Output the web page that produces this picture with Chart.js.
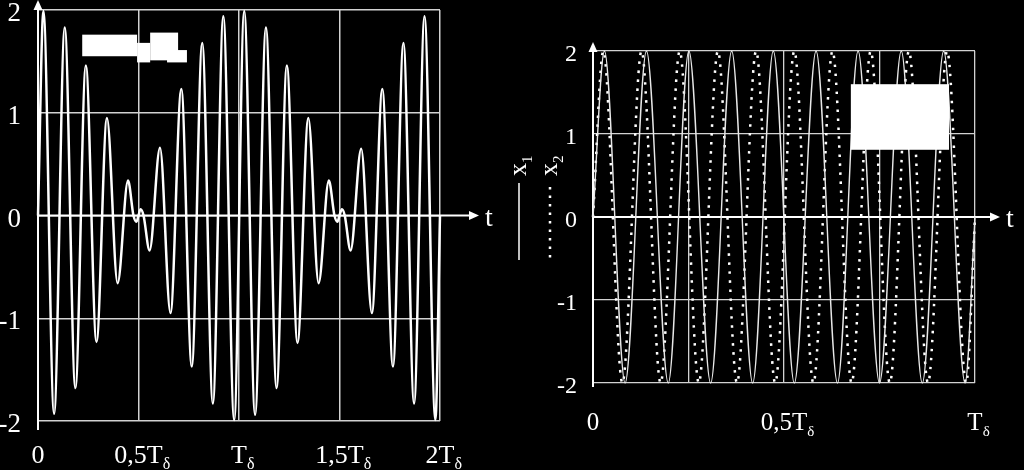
<!DOCTYPE html>
<html>
<head>
<meta charset="utf-8">
<script src="https://cdn.jsdelivr.net/npm/chart.js@4.4.1/dist/chart.umd.min.js"></script>
<style>
  html, body { margin: 0; padding: 0; background: #000; }
  #wrap { position: relative; width: 1024px; height: 470px; overflow: hidden; background: #000; }
  #wrap canvas { position: absolute; left: 0; top: 0; }
</style>
</head>
<body>
<div id="wrap">
  <canvas id="beat" width="1024" height="470"></canvas>
  <canvas id="pair" width="1024" height="470"></canvas>
</div>
<script>
// --- DATA (t in units of T_delta) ---

// left panel: sum signal, extrema and zero crossings
const beatT = [0, 0.027, 0.08, 0.133, 0.186, 0.238, 0.291, 0.343, 0.396, 0.448,
  0.475, 0.49, 0.5, 0.51, 0.525, 0.555, 0.607, 0.659, 0.713, 0.765,
  0.817, 0.87, 0.922, 0.976, 1.026, 1.08, 1.134, 1.187, 1.238, 1.291,
  1.345, 1.396, 1.447, 1.475, 1.49, 1.5, 1.512, 1.526, 1.555, 1.608,
  1.661, 1.713, 1.766, 1.818, 1.871, 1.923, 1.977, 2.0];
const beatX = [0, 1.99, -1.93, 1.83, -1.68, 1.46, -1.23, 0.95, -0.66, 0.34,
  0, -0.06, 0, 0.06, 0, -0.34, 0.66, -0.95, 1.23, -1.47,
  1.68, -1.83, 1.94, -1.99, 1.99, -1.94, 1.83, -1.68, 1.46, -1.24,
  0.95, -0.66, 0.34, 0, -0.06, 0, 0.06, 0, -0.34, 0.65,
  -0.95, 1.23, -1.47, 1.68, -1.83, 1.94, -1.99, 0];

// right panel: x1 (solid) and x2 (dotted), extrema
const x1T = [0, 0.03, 0.084, 0.14, 0.197, 0.251, 0.308, 0.363, 0.418, 0.472,
  0.527, 0.584, 0.64, 0.694, 0.75, 0.807, 0.862, 0.918, 0.974, 1];
const x1V = [0, 2, -2, 2, -2, 2, -2, 2, -2, 2, -2, 2, -2, 2, -2, 2, -2, 2, -2, 0];
const x2T = [0, 0.027, 0.077, 0.127, 0.177, 0.227, 0.277, 0.327, 0.377, 0.427,
  0.477, 0.527, 0.577, 0.627, 0.677, 0.727, 0.777, 0.827, 0.877, 0.927, 0.977, 1];
const x2V = [0, 2, -2, 2, -2, 2, -2, 2, -2, 2, -2, 2, -2, 2, -2, 2, -2, 2, -2, 2, -2, 0];

// tick labels
const yTicks = [-2, -1, 0, 1, 2];
const yLabels = ['-2', '-1', '0', '1', '2'];
const beatTicks = [0, 0.5, 1, 1.5, 2];
const beatLabels = ['0', '0,5T', 'T', '1,5T', '2T'];
const pairTicks = [0, 0.5, 1];
const pairLabels = ['0', '0,5T', 'T'];
const legendNames = ['x', 'x'];
const legendSubs = ['1', '2'];

// white cover boxes (data units: t0, t1, y0, y1)
const beatCovers = [[0.22, 0.493, 1.76, 1.55], [0.493, 0.558, 1.68, 1.49],
  [0.558, 0.697, 1.78, 1.51], [0.642, 0.741, 1.61, 1.49]];
const pairCovers = [[0.675, 0.932, 1.6, 0.81]];

const SERIF = "'Liberation Serif', 'Times New Roman', serif";

function pts(ts, vs) {
  return ts.map((t, i) => ({ x: t, y: vs[i] }));
}

// --- DRAW HELPERS ---

function tickLabel(ctx, main, cx, base, size) {
  ctx.font = `${size}px ${SERIF}`;
  const w = ctx.measureText(main).width;
  ctx.textAlign = 'left';
  ctx.textBaseline = 'alphabetic';
  ctx.fillText(main, cx - w / 2, base);
  if (main.endsWith('T')) {
    ctx.font = `${Math.round(size * 0.6)}px ${SERIF}`;
    ctx.fillText('\u03b4', cx + w / 2, base + size * 0.22);
  }
}

function frame(cfg) {
  return {
    id: 'frame-' + cfg.name,
    beforeDatasetsDraw(chart) {
      const { ctx, chartArea: a, scales: { x, y } } = chart;
      const x0 = x.getPixelForValue(0);
      const y0 = y.getPixelForValue(0);
      ctx.save();
      ctx.strokeStyle = '#fff';
      ctx.fillStyle = '#fff';
      ctx.lineWidth = 2;
      // y axis + arrow
      ctx.beginPath();
      ctx.moveTo(x0, a.bottom + cfg.below);
      ctx.lineTo(x0, a.top - cfg.upArrow + 4);
      ctx.stroke();
      ctx.beginPath();
      ctx.moveTo(x0, a.top - cfg.upArrow);
      ctx.lineTo(x0 - 4.5, a.top - cfg.upArrow + 10);
      ctx.lineTo(x0 + 4.5, a.top - cfg.upArrow + 10);
      ctx.closePath();
      ctx.fill();
      // t axis + arrow
      const tip = a.right + cfg.reach;
      ctx.beginPath();
      ctx.moveTo(x0, y0);
      ctx.lineTo(tip - 6, y0);
      ctx.stroke();
      ctx.beginPath();
      ctx.moveTo(tip, y0);
      ctx.lineTo(tip - 10, y0 - 4.5);
      ctx.lineTo(tip - 10, y0 + 4.5);
      ctx.closePath();
      ctx.fill();
      ctx.restore();
    },
    afterDatasetsDraw(chart) {
      const { ctx, chartArea: a, scales: { x, y } } = chart;
      const x0 = x.getPixelForValue(0);
      const y0 = y.getPixelForValue(0);
      ctx.save();
      ctx.fillStyle = '#fff';
      cfg.covers.forEach(([t0, t1, v0, v1]) => {
        const px = x.getPixelForValue(t0), py = y.getPixelForValue(v0);
        ctx.fillRect(px, py, x.getPixelForValue(t1) - px, y.getPixelForValue(v1) - py);
      });
      // y tick labels
      ctx.font = `${cfg.ySize}px ${SERIF}`;
      ctx.textAlign = 'right';
      ctx.textBaseline = 'middle';
      yTicks.forEach((v, i) => ctx.fillText(yLabels[i], x0 - cfg.yGap, y.getPixelForValue(v) + 4));
      // t tick labels
      cfg.ticks.forEach((t, i) => tickLabel(ctx, cfg.labels[i], x.getPixelForValue(t), cfg.xBase, cfg.xSize));
      // axis name
      ctx.font = `28px ${SERIF}`;
      ctx.textAlign = 'left';
      ctx.textBaseline = 'alphabetic';
      ctx.fillText('t', a.right + cfg.reach + 6, y0 + 10);
      if (cfg.legend) cfg.legend(ctx);
      ctx.restore();
    }
  };
}

function drawLegend(ctx) {
  const cols = [519, 550];
  cols.forEach((cx, i) => {
    ctx.save();
    ctx.translate(cx + 7, 176);
    ctx.rotate(-Math.PI / 2);
    ctx.font = `26px ${SERIF}`;
    ctx.textAlign = 'left';
    ctx.textBaseline = 'alphabetic';
    ctx.fillText(legendNames[i], 0, 0);
    const w = ctx.measureText(legendNames[i]).width;
    ctx.font = `15px ${SERIF}`;
    ctx.fillText(legendSubs[i], w, 6);
    ctx.restore();
    ctx.save();
    ctx.strokeStyle = '#fff';
    ctx.lineWidth = i === 0 ? 1.5 : 2.5;
    if (i === 1) ctx.setLineDash([2.5, 6]);
    ctx.beginPath();
    ctx.moveTo(cx, i === 0 ? 183 : 187);
    ctx.lineTo(cx, 260);
    ctx.stroke();
    ctx.restore();
  });
}

function axisOpts(min, max, step, gridWidth) {
  return {
    type: 'linear', min, max,
    ticks: { display: false, stepSize: step },
    grid: { color: '#d2d2d2', lineWidth: gridWidth, drawTicks: false },
    border: { display: false }
  };
}

// --- CHARTS ---

window.onload = () => {
  new Chart(document.getElementById('beat').getContext('2d'), {
    type: 'line',
    data: {
      datasets: [{
        data: pts(beatT, beatX),
        borderColor: '#fff',
        borderWidth: 2.5,
        pointRadius: 0,
        cubicInterpolationMode: 'monotone',
        clip: 6
      }]
    },
    options: {
      responsive: false,
      animation: false,
      events: [],
      layout: { padding: { left: 38, top: 10, right: 584, bottom: 49 } },
      plugins: { legend: { display: false }, tooltip: { enabled: false } },
      scales: { x: axisOpts(0, 2, 0.5, 1.5), y: axisOpts(-2, 2, 1, 1.5) }
    },
    plugins: [frame({ name: 'beat', below: 9, upArrow: 10, reach: 39, covers: beatCovers,
      ySize: 27, yGap: 17, ticks: beatTicks, labels: beatLabels, xBase: 463, xSize: 26 })]
  });

  new Chart(document.getElementById('pair').getContext('2d'), {
    type: 'line',
    data: {
      datasets: [{
        label: 'x1',
        data: pts(x1T, x1V),
        borderColor: '#e8e8e8',
        borderWidth: 1.4,
        pointRadius: 0,
        cubicInterpolationMode: 'monotone',
        clip: 6
      }, {
        label: 'x2',
        data: pts(x2T, x2V),
        borderColor: '#fff',
        borderWidth: 2.5,
        borderDash: [2.5, 6.5],
        pointRadius: 0,
        cubicInterpolationMode: 'monotone',
        clip: 6
      }]
    },
    options: {
      responsive: false,
      animation: false,
      events: [],
      layout: { padding: { left: 593, top: 51, right: 49, bottom: 87 } },
      plugins: { legend: { display: false }, tooltip: { enabled: false } },
      scales: { x: axisOpts(0, 1, 0.25, 1.3), y: axisOpts(-2, 2, 1, 1.3) }
    },
    plugins: [frame({ name: 'pair', below: 4, upArrow: 9, reach: 25, covers: pairCovers,
      ySize: 24, yGap: 16, ticks: pairTicks, labels: pairLabels, xBase: 430, xSize: 25,
      legend: drawLegend })]
  });
};
</script>
</body>
</html>
